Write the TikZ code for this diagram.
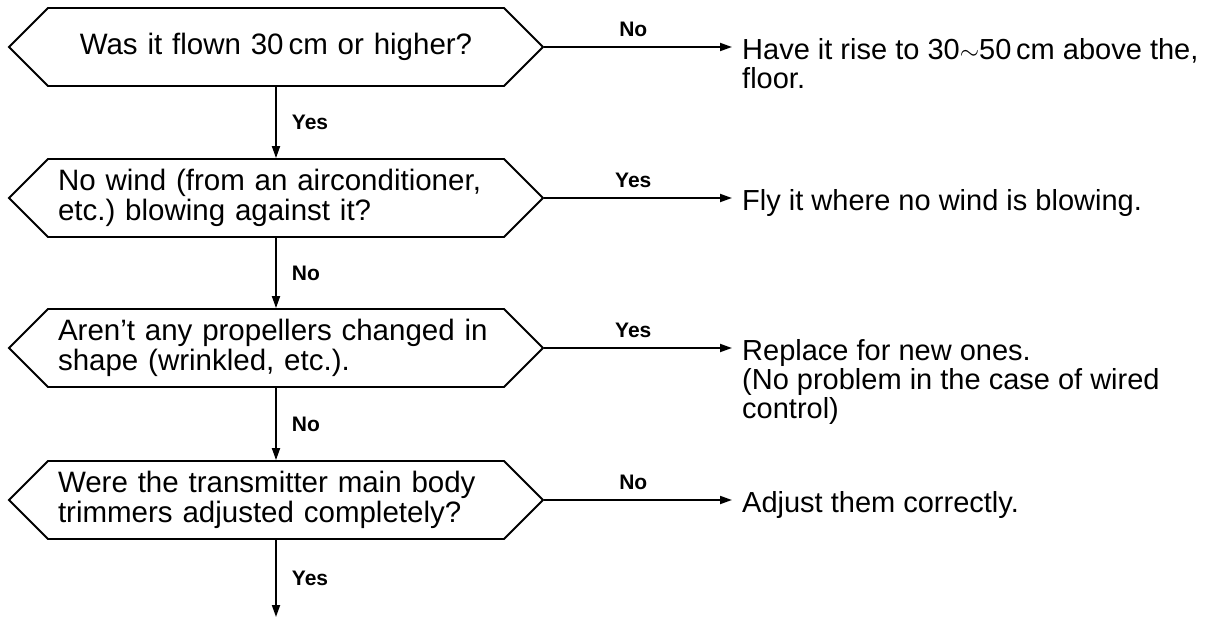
\documentclass[tikz,border=0pt]{standalone}
\usepackage{fontspec}
\setmainfont{Liberation Sans}
\usetikzlibrary{shapes.symbols,arrows.meta}
\frenchspacing
\begin{document}
\begin{tikzpicture}[x=1pt,y=-1pt,
  question/.style={signal, signal to=west and east, signal from=nowhere,
    signal pointer angle=90, draw, line width=1.8pt, minimum width=534pt,
    minimum height=78pt, inner sep=0pt, text width=436pt,
    font=\fontsize{29.5}{30}\selectfont},
  answer/.style={anchor=north west, inner sep=0pt, align=left,
    font=\fontsize{29}{29}\selectfont},
  lab/.style={inner sep=0pt, font=\bfseries\fontsize{21}{22}\selectfont},
  sidelab/.style={lab, anchor=south, yshift=9pt, pos=0.45},
  downlab/.style={lab, anchor=west, xshift=15pt},
  flow/.style={line width=1.8pt, -{Triangle[length=12pt,width=8pt]}},
  toanswer/.style={flow, shorten >=10pt}]
\useasboundingbox (0,0) rectangle (1209,620);

% decision boxes
\node[question, align=center] (q1) at (276,47) {Was it flown 30\,cm or higher?};
\node[question, align=left] (q2) at (276,198) {No wind (from an airconditioner,\\etc.) blowing against it?};
\node[question, align=left] (q3) at (276,348) {Aren't any propellers changed in\\shape (wrinkled, etc.).};
\node[question, align=left] (q4) at (276,500) {Were the transmitter main body\\trimmers adjusted completely?};
\coordinate (out) at (276,617);

% remedies
\node[answer] (a1) at (742,38) {Have it rise to 30$\sim$50\,cm above the,\\floor.};
\node[answer] (a2) at (742,189) {Fly it where no wind is blowing.};
\node[answer] (a3) at (742,339) {Replace for new ones.\\(No problem in the case of wired\\control)};
\node[answer] (a4) at (742,491) {Adjust them correctly.};

% main flow
\draw[flow] (q1.south) -- node[downlab] {Yes} (q2.north);
\draw[flow] (q2.south) -- node[downlab] {No} (q3.north);
\draw[flow] (q3.south) -- node[downlab] {No} (q4.north);
\draw[flow] (q4.south) -- node[downlab] {Yes} (out);

% branches
\draw[toanswer] (q1.east) -- node[sidelab] {No} (q1.east -| a1.west);
\draw[toanswer] (q2.east) -- node[sidelab] {Yes} (q2.east -| a2.west);
\draw[toanswer] (q3.east) -- node[sidelab] {Yes} (q3.east -| a3.west);
\draw[toanswer] (q4.east) -- node[sidelab] {No} (q4.east -| a4.west);
\end{tikzpicture}
\end{document}
